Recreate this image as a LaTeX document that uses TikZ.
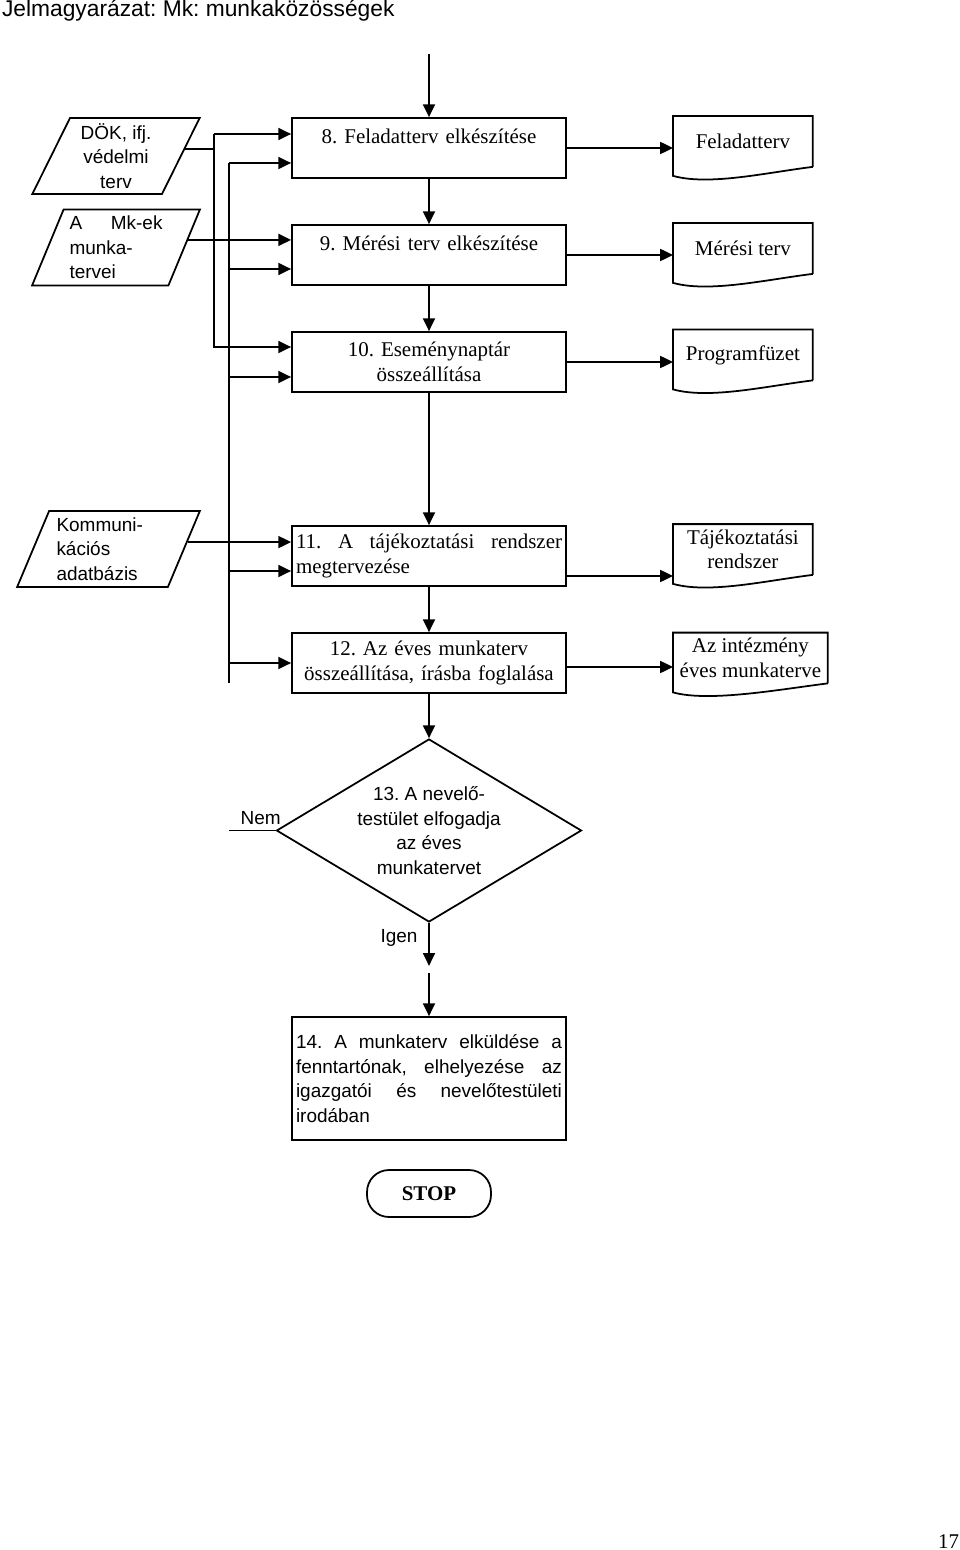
\documentclass[tikz,border=0pt]{standalone}
\usepackage{fontspec}
\setmainfont{Liberation Serif}
\setsansfont{Liberation Sans}
\usetikzlibrary{arrows.meta,shapes.geometric}
\hyphenpenalty=10000
\frenchspacing

\begin{document}
\begin{tikzpicture}[node distance=2.675cm, every node/.style={align=center, font=\fontsize{14.9}{17.4}\selectfont}, >={Triangle[length=3.2mm,width=3mm]}, line width=1.25pt]
    % Stílusok
    \tikzstyle{stage} = [rectangle, draw=black, minimum width=6.85cm, minimum height=1.5cm, text width=6.65cm, inner xsep=0.1cm]
    \tikzstyle{doc} = [rectangle, minimum width=3.45cm, minimum height=1.225cm, inner xsep=0.05cm, inner ysep=0.05cm]
    \tikzstyle{inbox} = [trapezium, trapezium left angle=66, trapezium right angle=114, trapezium stretches=true, draw=black, minimum width=4.2cm, minimum height=1.9cm, inner sep=0pt, font=\sffamily\fontsize{13.5}{17.4}\selectfont]
    \tikzstyle{decision} = [diamond, draw=black, minimum width=7.625cm, minimum height=4.575cm, aspect=1.67, inner sep=0pt, font=\sffamily\fontsize{13.5}{17.4}\selectfont]
    \tikzstyle{stopbox} = [rectangle, rounded corners=0.55cm, draw=black, minimum width=3.1cm, minimum height=1.175cm, font=\bfseries\fontsize{14.9}{17.4}\selectfont]
    \tikzstyle{arrow} = [->]

    \useasboundingbox (0,0) rectangle (24,-38.75);

    % Cím
    \node[anchor=base west, inner sep=0pt, font=\sffamily\fontsize{16.2}{19}\selectfont] (title) at (0.03,-0.425) {Jelmagyarázat: Mk: munkaközösségek};

    % Fő lépések
    \node[stage] (b8) at (10.725,-3.7) {8. Feladatterv elkészítése\\ \mbox{}};
    \node[stage, below of=b8] (b9) {9. Mérési terv elkészítése\\ \mbox{}};
    \node[stage, below of=b9] (b10) {10. Eseménynaptár\\összeállítása};
    \node[stage, below of=b10, yshift=-2.175cm, align=justify] (b11) {11. A tájékoztatási rendszer\linebreak megtervezése};
    \node[stage, below of=b11] (b12) {12. Az éves munkaterv\\összeállítása, írásba foglalása};
    \node[decision, below of=b12, yshift=-1.5125cm] (d13) {13. A nevelő-\\testület elfogadja\\az éves\\munkatervet};
    \node[stage, below of=d13, yshift=-3.525cm, minimum height=3.075cm, align=justify, font=\sffamily\fontsize{13.5}{17.4}\selectfont] (b14) {14. A munkaterv elküldése a\linebreak fenntartónak, elhelyezése az\linebreak igazgatói és nevelőtestületi\linebreak irodában\par\vspace*{0.5cm}};
    \node[stopbox, below of=b14, yshift=-0.2cm] (stop) {STOP};

    % Dokumentumok
    \node[doc, right of=b8, anchor=west, xshift=3.425cm, yshift=0.1625cm] (doc8) {Feladatterv};
    \node[doc, right of=b9, anchor=west, xshift=3.425cm, yshift=0.1625cm] (doc9) {Mérési terv};
    \node[doc, right of=b10, anchor=west, xshift=3.425cm, yshift=0.175cm] (doc10) {Programfüzet};
    \node[doc, right of=b11, anchor=west, xshift=3.425cm, yshift=0.1625cm] (doc11) {Tájékoztatási\\rendszer};
    \node[doc, right of=b12, anchor=west, xshift=3.425cm, yshift=0.125cm, minimum width=3.825cm] (doc12) {Az intézmény\\éves munkaterve};
    \foreach \d in {doc8,doc9,doc10,doc11,doc12}
        \draw (\d.south east) -- (\d.north east) -- (\d.north west) -- ([yshift=-0.225cm]\d.south west) .. controls +(0.9,-0.25) and +(-1.2,-0.15) .. (\d.south east);

    % Bemenetek
    \node[inbox, left of=b8, xshift=-5.15cm, yshift=-0.2cm] (dok) {DÖK, ifj.\\védelmi\\terv};
    \node[inbox, left of=b9, xshift=-5.15cm, yshift=0.1875cm, text width=2.325cm, align=left] (mk) {A\hfill Mk-ek\\munka-\\tervei};
    \node[inbox, left of=b11, xshift=-5.3375cm, yshift=0.175cm, minimum width=4.575cm, text width=2.6cm, align=left] (kom) {Kommuni-\\kációs\\adatbázis};

    % Nyilak
    \coordinate (start) at ([yshift=1.575cm]b8.north);
    \coordinate (igen) at ([yshift=-1.075cm]d13.south);
    \coordinate (tovabb) at ([yshift=-1.25cm]d13.south);
    \coordinate (nem) at ([xshift=-1.175cm]d13.west);
    \coordinate (out11) at ([yshift=-0.5cm]b11.east);
    \coordinate (out12) at ([yshift=-0.1cm]b12.east);

    \draw[arrow] (start) -- (b8);
    \draw[arrow] (b8) -- (b9);
    \draw[arrow] (b9) -- (b10);
    \draw[arrow] (b10) -- (b11);
    \draw[arrow] (b11) -- (b12);
    \draw[arrow] (b12) -- (d13);
    \draw[arrow] (d13.south) -- (igen) node[pos=0.35, left, xshift=-0.15cm, font=\sffamily\fontsize{13.5}{17.4}\selectfont] {Igen};
    \draw[arrow] (tovabb) -- (b14);
    \draw (d13.west) -- (nem) node[pos=0.32, above, font=\sffamily\fontsize{13.5}{17.4}\selectfont] {Nem};

    \draw[arrow] (b8) -- (b8 -| doc8.west);
    \draw[arrow] (b9) -- (b9 -| doc9.west);
    \draw[arrow] (b10) -- (b10 -| doc10.west);
    \draw[arrow] (out11) -- (out11 -| doc11.west);
    \draw[arrow] (out12) -- (out12 -| doc12.west);

    \draw (dok.6) -| ([xshift=-1.925cm]b8.west);
    \draw[arrow] ([xshift=-1.925cm,yshift=0.35cm]b8.west) -- ([yshift=0.35cm]b8.west);
    \draw[arrow] ([xshift=-1.925cm,yshift=0.35cm]b8.west) |- ([yshift=0.375cm]b10.west);
    \draw[arrow] (mk.6) -- (mk.6 -| b9.west);
    \draw[arrow] (kom.5) -- (kom.5 -| b11.west);
    \draw ([xshift=-1.55cm,yshift=-0.375cm]b8.west) -- ([xshift=-1.55cm,yshift=-0.5cm]b12.west);
    \foreach \b/\s in {b8/-0.375, b9/-0.35, b10/-0.375, b11/-0.375, b12/0}
        \draw[arrow] ([xshift=-1.55cm,yshift=\s cm]\b.west) -- ([yshift=\s cm]\b.west);

    % Oldalszám
    \node[anchor=base east, inner sep=0pt] (page) at (24,-38.7) {17};
\end{tikzpicture}
\end{document}
